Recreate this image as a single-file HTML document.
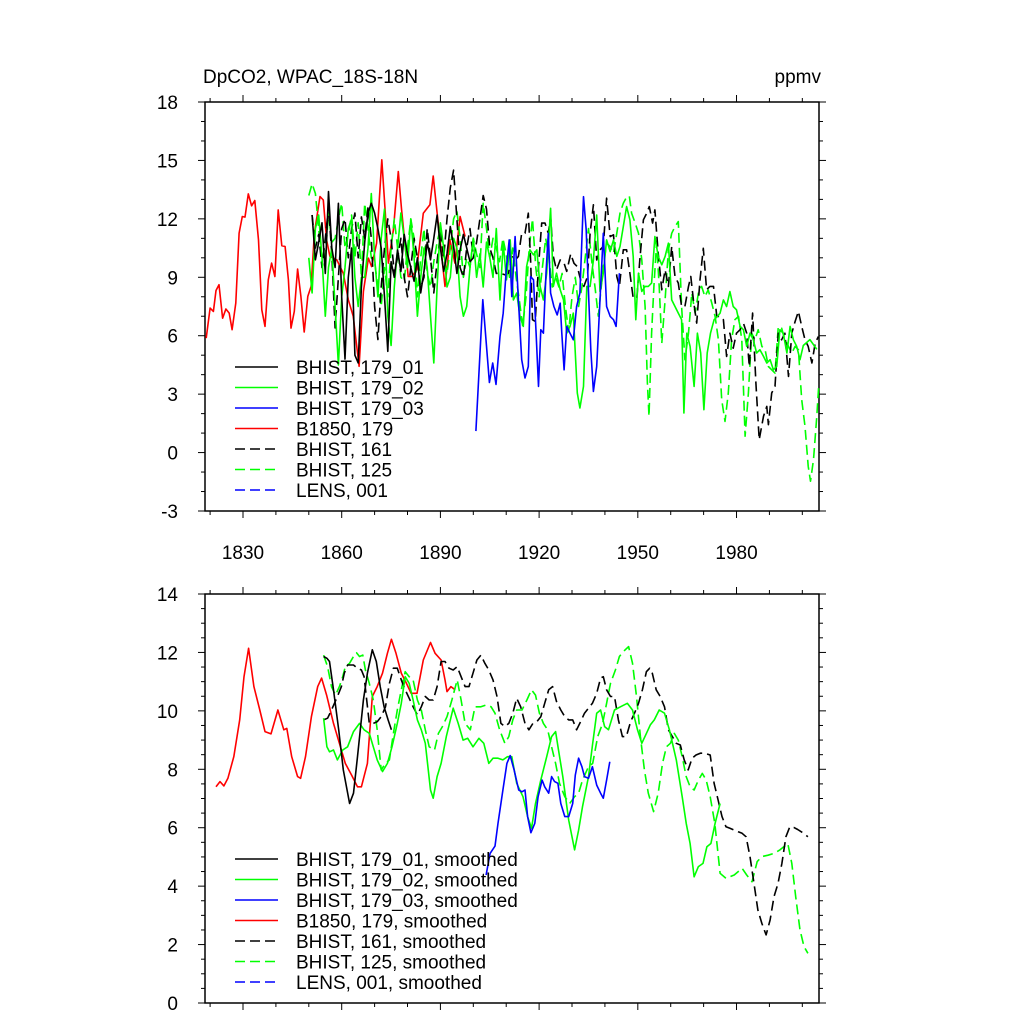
<!DOCTYPE html>
<html><head><meta charset="utf-8"><style>
html,body{margin:0;padding:0;background:#fff;}
svg{display:block;font-family:"Liberation Sans",sans-serif;}
</style></head><body>
<svg id="chart" width="1024" height="1024" viewBox="0 0 1024 1024">
<text x="203" y="83" font-size="19">DpCO2, WPAC_18S-18N</text>
<text x="821" y="83" font-size="19" text-anchor="end">ppmv</text>
<g id="top"></g>
<g id="bot"></g>
</svg>
<script>
// ---------- TOP PANEL DATA (raw annual) ----------
const redYears=[1818.8,1820.0,1821.0,1821.8,1822.7,1823.8,1824.8,1825.8,1826.7,1827.8,1828.8,1829.8,1830.6,1831.6,1832.6,1833.6,1834.7,1835.7,1836.7,1837.7,1838.7,1839.7,1840.7,1841.8,1842.8,1843.8,1844.6,1845.6,1846.6,1847.6,1848.6,1849.7,1850.7,1851.7,1853.4,1854.4,1855.4,1856.4,1858.5,1860.5,1862.0,1863.5,1865.3,1866.6,1868.1,1869.1,1870.6,1872.2,1873.2,1874.2,1875.7,1877.2,1878.2,1880.2,1881.3,1882.8,1884.8,1886.8,1887.8,1888.9,1891.4,1892.9,1894.4,1896.0,1897.5];
const redVals=[5.88,7.42,7.25,8.32,8.62,6.9,7.37,7.16,6.31,7.68,11.27,12.12,12.09,13.28,12.67,12.94,10.92,7.33,6.48,8.87,9.73,9.04,12.46,10.62,10.58,8.87,6.39,7.25,9.42,8.02,6.19,8.02,8.53,11.27,13.15,12.97,10.92,10.07,9.9,9.2,7.85,7.0,4.43,8.27,9.98,9.55,10.75,15.03,12.46,9.73,11.44,14.43,12.46,9.04,9.04,9.38,12.29,12.72,14.2,12.46,8.53,10.92,9.73,12.12,11.09];

const blk1Start=1851;
const blk1Vals=[12.2,9.9,10.8,11.8,9.2,13.4,10.5,9.5,12.8,8.0,4.8,9.0,10.5,5.0,4.6,8.5,10.8,12.3,12.8,12.3,11.5,10.5,8.0,5.2,9.8,9.0,10.4,9.3,11.2,10.2,9.5,8.8,10.0,8.2,9.3,10.8,9.9,11.0,12.2,10.5,9.3,10.2,11.6,10.6,9.2,10.4,11.2,10.5,9.8,10.0];

const grn2EarlyStart=1850;
const grn2EarlyVals=[10.0,8.2,11.5,12.2,10.0,7.0,9.5,10.5,7.5,4.5,8.0,9.5,11.5,12.0,9.0,7.5,9.0,9.0,10.5,13.3,10.0,8.0,11.0,12.5,7.0,5.5,8.5,10.5,12.3,11.0,9.5,12.0,10.0,7.0,9.0,10.5,9.5,7.0,4.6,8.5,11.8,10.5,8.5,9.0,11.0,10.5,8.0,7.0,7.5,9.5,11.0,9.0,10.2,8.5,10.8,10.0,9.0,11.5];
const grn2LateYears=[1908.1,1909.1,1910.1,1911.2,1912.2,1913.2,1914.2,1915.2,1916.2,1917.2,1918.3,1919.3,1920.3,1921.3,1922.3,1923.5,1924.3,1925.3,1926.4,1927.4,1928.4,1929.4,1930.4,1931.6,1932.4,1933.5,1934.5,1935.5,1936.5,1937.5,1938.5,1939.5,1940.5,1941.6,1942.6,1943.6,1944.6,1945.6,1946.6,1947.6,1948.6,1949.4,1950.2,1951.2,1952.2,1953.2,1954.2,1955.2,1956.2,1957.3,1958.3,1959.3,1960.3,1961.3,1962.3,1963.3,1964.0,1964.9,1965.9,1967.1,1968.1,1969.1,1970.1,1971.1,1972.1,1973.2,1974.2,1975.0,1976.0,1977.0,1978.0,1979.0,1980.0,1981.1,1982.1,1983.1,1984.1,1985.1,1986.1,1987.1,1988.2,1989.2,1990.2,1991.2,1992.2,1993.2,1994.2,1995.3,1996.3,1997.3,1998.3,1999.3,2000.3,2002.3,2004.4];
const grn2LateVals=[7.84,10.75,8.87,10.92,7.84,8.19,6.99,6.48,9.55,10.41,10.15,10.41,8.53,7.84,9.21,12.54,8.53,9.21,8.36,7.84,6.13,6.48,7.16,3.06,2.29,3.40,8.53,8.53,9.89,12.2,8.27,9.21,10.92,10.32,10.92,10.07,10.58,11.6,12.63,11.95,10.07,6.82,9.21,8.27,8.53,8.53,8.7,11.09,10.07,9.64,10.07,10.75,7.84,7.5,7.16,6.82,2.03,6.13,5.45,3.40,6.13,5.11,2.2,5.11,6.13,6.82,6.99,7.16,7.84,7.5,8.27,7.5,7.33,6.48,6.31,5.45,6.13,5.79,5.11,5.28,4.94,4.6,4.77,4.25,4.42,6.31,6.13,5.11,6.48,5.79,5.45,4.77,5.5,5.8,5.3];

const blu3Years=[1900.8,1902.9,1904.9,1905.9,1906.9,1908.1,1909.1,1910.1,1910.9,1911.7,1912.7,1913.7,1914.7,1915.7,1916.7,1917.4,1918.3,1919.1,1919.8,1920.5,1921.3,1922.1,1922.8,1923.5,1924.5,1925.5,1926.4,1926.9,1927.6,1928.4,1929.4,1930.4,1931.4,1932.4,1933.5,1934.3,1935.1,1935.7,1936.5,1937.5,1938.5,1939.5,1940.5,1941.6,1942.6,1943.4,1944.4];
const blu3Vals=[1.1,7.85,3.6,4.6,3.5,5.96,7.16,9.55,10.92,8.01,11.09,7.84,4.77,3.83,4.42,9.04,8.87,6.13,3.40,6.31,6.13,9.21,11.26,8.19,7.5,7.07,7.67,6.13,4.25,6.48,6.13,5.79,7.5,8.19,13.14,11.43,7.84,5.28,3.14,4.42,7.84,11.26,7.5,6.99,6.82,6.48,9.21];

const blk161EarlyStart=1851;
const blk161EarlyVals=[12.2,10.5,11.2,9.5,11.0,12.6,10.2,6.4,9.0,11.5,12.0,10.0,11.5,12.3,10.0,12.1,11.0,12.6,11.0,7.5,5.8,8.5,10.5,12.0,11.0,9.2,10.0,11.0,9.0,8.0,9.5,11.0,10.0,8.5,9.0,11.5,10.0,8.2,9.8,11.3,10.0,12.0,13.6,14.5,12.0,9.5,9.0,10.5,11.5,10.0,10.8,12.0,13.2,12.5,10.5,10.0,9.2];
const blk161LateYears=[1908.1,1909.6,1910.7,1911.7,1912.7,1913.7,1914.7,1915.7,1916.7,1917.4,1918.0,1918.8,1919.8,1920.8,1921.8,1922.8,1923.5,1924.3,1925.3,1926.4,1927.6,1928.4,1929.6,1930.6,1931.6,1932.6,1933.6,1934.7,1935.5,1936.5,1937.5,1938.5,1939.5,1940.5,1941.6,1942.6,1943.6,1944.4,1945.6,1946.6,1947.6,1948.6,1949.7,1950.7,1951.7,1952.7,1953.5,1954.5,1955.2,1956.2,1957.3,1958.3,1959.3,1960.3,1961.3,1962.3,1963.3,1964.3,1965.4,1966.1,1966.9,1967.9,1968.9,1969.9,1970.9,1971.9,1973.0,1974.0,1975.0,1976.0,1977.0,1978.0,1979.0,1980.0,1981.1,1982.1,1983.1,1983.9,1984.9,1985.9,1986.9,1988.2,1989.2,1989.7,1990.7,1991.7,1992.7,1993.7,1994.7,1995.8,1996.8,1997.8,1998.8,1999.8,2000.8,2001.8,2002.9,2003.9,2004.9];
const blk161LateVals=[9.21,9.13,9.21,10.07,9.89,10.07,11.26,11.26,12.29,9.89,6.82,6.73,9.55,11.78,11.78,11.26,12.12,10.07,9.38,9.89,9.72,9.30,10.2,9.72,9.55,8.87,8.53,9.04,11.26,12.72,9.89,10.41,10.58,13.06,11.09,11.18,9.04,8.53,10.41,10.41,9.21,7.93,7.93,10.07,11.95,12.29,12.63,11.78,12.46,10.24,8.36,9.38,8.53,10.58,9.04,8.7,7.5,7.5,8.53,9.04,7.84,6.65,8.87,10.49,8.36,8.53,8.53,6.99,6.99,6.82,4.94,6.13,5.36,6.13,6.31,6.65,6.13,4.42,7.16,3.57,0.66,1.86,2.37,1.43,3.06,3.40,6.13,5.79,6.13,3.91,6.13,6.73,7.25,6.48,5.79,5.45,4.6,5.62,5.96];

const grn125EarlyStart=1850;
const grn125EarlyVals=[13.2,13.8,13.3,11.5,9.5,10.0,12.3,10.8,11.0,12.0,12.8,10.5,11.2,12.2,10.0,11.8,9.0,12.8,11.5,10.0,9.8,8.5,7.5,9.5,8.0,10.5,12.0,10.5,9.0,8.8,10.5,12.0,11.0,8.0,10.0,11.5,9.2,8.5,9.8,10.8,11.5,10.0,9.2,10.5,12.0,12.4,11.0,9.0,10.0,9.5,11.0,10.2,9.5,12.8,11.5,10.0,11.0,10.5,9.8,11.0,10.2,9.0,10.5,9.0,7.8,6.5,8.0,10.5,12.0,9.5,8.0,9.5,11.0,10.0,8.5,9.0,8.5,9.2,7.5,6.2,8.0,9.0,7.5,8.5,10.0,11.5,9.8,8.5,7.0];
const grn125LateYears=[1939.5,1940.5,1941.6,1942.6,1943.6,1944.6,1945.6,1946.4,1947.4,1948.1,1949.2,1950.2,1951.2,1952.2,1952.9,1953.4,1954.2,1954.9,1955.7,1956.5,1957.3,1958.3,1959.3,1960.3,1961.3,1962.3,1963.3,1964.3,1965.4,1966.4,1967.4,1968.4,1969.4,1970.4,1971.4,1972.5,1973.5,1974.5,1975.5,1976.5,1977.5,1978.5,1979.5,1980.6,1981.6,1982.6,1983.6,1984.6,1985.6,1986.6,1987.7,1988.7,1989.7,1990.7,1991.7,1992.7,1993.7,1994.7,1995.8,1996.8,1997.8,1998.8,1999.8,2000.8,2001.8,2002.5,2003.4,2004.4,2005.0];
const grn125LateVals=[9.55,10.75,10.58,10.24,11.26,12.29,12.8,13.06,13.18,12.29,11.78,11.26,9.89,7.5,3.57,1.86,6.13,8.53,10.75,8.53,5.62,7.84,10.41,11.26,11.6,11.86,7.5,4.77,6.13,8.19,7.16,8.19,8.53,8.01,8.36,7.67,6.99,5.79,2.72,1.60,3.06,5.79,6.82,6.99,5.79,0.84,3.06,6.13,5.79,6.31,5.45,5.28,4.42,4.25,4.08,6.48,6.39,5.79,5.45,5.11,5.45,5.28,2.72,1.35,-0.7,-1.47,-0.36,1.86,3.5];

// ---------- BOTTOM PANEL DATA (smoothed) ----------
const redSmYears=[1821.8,1823.0,1824.2,1825.4,1827.2,1829.0,1830.3,1831.7,1833.3,1835.1,1836.7,1838.5,1840.6,1842.4,1843.3,1844.8,1846.6,1847.5,1849.0,1850.8,1852.7,1853.9,1855.4,1857.5,1859.3,1861.1,1863.0,1864.8,1866.0,1867.8,1869.3,1870.8,1872.4,1873.9,1875.1,1876.5,1878.1,1879.7,1881.1,1882.9,1884.8,1887.0,1888.4,1890.2,1891.4,1892.0,1893.2,1894.5];
const redSmVals=[7.40,7.58,7.43,7.69,8.43,9.69,11.17,12.14,10.83,10.03,9.29,9.21,10.03,9.35,9.40,8.43,7.75,7.69,8.43,9.80,10.83,11.12,10.54,9.57,8.89,8.20,7.80,7.40,7.40,8.20,10.49,10.83,11.29,11.97,12.45,11.97,11.29,10.94,10.60,10.60,11.74,12.34,11.97,11.74,11.06,10.66,10.83,10.72];

const blk1SmYears=[1854.5,1855.5,1856.3,1857.5,1859.1,1860.5,1862.4,1863.6,1864.8,1866.6,1867.8,1869.3,1870.5,1871.7,1872.9,1874.1,1875.1];
const blk1SmVals=[11.86,11.80,11.69,10.72,9.35,7.98,6.83,7.18,8.43,10.37,11.29,12.09,11.69,10.83,10.14,9.69,9.35];

const grn2SmYears=[1854.5,1855.5,1856.3,1857.5,1858.7,1860.3,1861.8,1863.6,1865.4,1866.8,1868.4,1869.6,1870.8,1872.4,1873.9,1875.3,1876.9,1878.1,1879.3,1880.5,1881.7,1883.0,1884.2,1885.4,1887.0,1887.8,1889.0,1890.2,1891.8,1893.9,1895.4,1896.9,1898.3,1899.9,1901.7,1903.2,1904.7,1906.0,1907.5,1909.0,1910.4,1911.7,1913.2,1915.1,1916.5,1917.7,1918.9,1920.5,1922.3,1923.8,1925.0,1925.9,1927.2,1929.0,1930.8,1932.0,1933.2,1935.0,1936.3,1937.5,1938.7,1939.9,1941.1,1942.9,1944.7,1946.8,1948.4,1949.9,1951.2,1952.6,1953.8,1955.0,1956.5,1958.1,1959.6,1961.7,1963.5,1964.7,1965.9,1967.1,1968.4,1969.8,1971.0,1972.2,1973.5,1975.0];
const grn2SmVals=[9.75,8.77,8.60,8.66,8.32,8.66,8.77,9.29,9.57,9.35,9.23,8.77,8.32,7.92,8.20,8.77,9.57,10.26,11.17,10.94,10.37,9.69,9.35,8.89,7.29,7.01,7.75,8.20,9.12,10.09,9.57,9.00,9.06,8.77,9.06,8.89,8.20,8.38,8.38,8.32,8.43,8.43,7.52,7.06,6.38,5.98,6.83,7.63,8.43,9.12,9.29,8.66,7.75,6.26,5.24,5.92,6.72,7.75,8.89,9.92,10.03,9.46,9.35,10.03,10.14,10.26,10.03,9.35,8.89,9.23,9.52,9.69,10.03,9.92,9.35,8.32,7.06,6.15,5.46,4.32,4.67,4.78,5.35,5.46,6.15,6.83];

const blu3SmYears=[1903.9,1905.1,1906.6,1907.5,1909.0,1910.2,1911.2,1912.4,1913.8,1914.8,1915.7,1916.5,1917.5,1918.7,1919.7,1920.9,1921.7,1922.9,1923.8,1924.7,1925.7,1926.6,1927.8,1929.0,1930.2,1931.0,1932.0,1933.0,1933.8,1935.0,1936.2,1937.5,1938.7,1939.5,1940.5,1941.5];
const blu3SmVals=[4.38,5.12,5.37,6.15,7.29,8.20,8.47,7.98,7.29,7.23,7.29,6.38,5.83,6.15,7.06,7.63,7.40,7.18,7.75,7.58,7.52,6.83,6.38,6.38,6.83,7.80,8.38,8.09,7.75,7.69,8.09,7.46,7.18,7.01,7.63,8.26];

const blk161SmYears=[1854.5,1855.7,1856.9,1858.7,1859.9,1860.8,1861.8,1863.6,1864.8,1866.0,1866.8,1867.6,1868.4,1869.6,1870.8,1872.0,1873.3,1874.5,1875.7,1876.9,1878.1,1879.3,1880.5,1881.7,1883.0,1884.2,1885.4,1886.6,1887.8,1889.0,1890.2,1891.4,1892.6,1893.9,1895.1,1896.3,1897.5,1898.7,1899.9,1901.1,1902.3,1903.5,1904.7,1906.0,1907.2,1908.4,1909.6,1910.8,1912.0,1913.2,1914.4,1915.7,1916.9,1918.1,1919.3,1920.5,1921.7,1922.9,1924.1,1925.3,1926.6,1927.8,1929.0,1930.2,1931.4,1932.6,1933.8,1935.0,1936.2,1937.5,1938.7,1939.5,1940.5,1941.7,1942.9,1944.1,1945.3,1946.5,1947.8,1949.0,1950.2,1951.4,1952.6,1953.6,1954.4,1955.6,1956.8,1958.1,1959.3,1960.5,1961.7,1962.9,1964.1,1965.3,1966.5,1967.7,1969.0,1970.2,1972.0,1973.2,1974.4,1975.6,1976.8,1978.0,1979.3,1980.5,1981.7,1982.9,1984.1,1985.3,1986.5,1987.7,1989.0,1990.2,1991.4,1992.6,1993.8,1995.0,1996.2,1997.4,1998.6,2000.4,2001.7];
const blk161SmVals=[9.69,9.75,10.03,10.49,10.83,11.29,11.57,11.57,11.46,11.40,11.17,10.37,9.57,9.57,9.63,9.80,10.14,10.94,11.46,11.46,11.06,10.72,10.43,10.14,9.86,10.14,10.49,10.37,10.37,10.83,11.69,11.69,11.46,11.40,11.51,11.17,10.83,10.83,11.29,11.74,11.91,11.63,11.40,11.06,10.49,9.57,9.46,9.57,9.92,10.43,10.14,9.57,9.35,9.57,9.63,9.80,10.26,10.72,10.83,10.32,10.03,9.80,9.69,9.69,9.35,9.63,9.92,10.09,10.26,10.60,11.12,11.17,10.72,10.49,10.49,9.69,9.12,9.12,9.63,9.92,10.26,10.72,11.34,11.46,11.29,10.72,10.49,10.14,9.35,9.12,8.89,8.83,8.32,7.98,8.38,8.49,8.55,8.55,8.49,7.52,6.95,6.38,6.03,5.98,5.92,5.86,5.81,5.69,5.01,4.09,3.18,2.72,2.33,2.84,3.64,4.09,4.78,5.69,6.03,6.01,5.94,5.81,5.69];

const grn125SmYears=[1854.5,1855.7,1856.9,1858.1,1859.3,1860.3,1861.1,1862.4,1863.6,1864.5,1865.4,1866.4,1867.2,1868.4,1869.6,1870.8,1872.0,1873.3,1874.5,1875.7,1876.9,1878.1,1879.3,1880.5,1881.7,1883.0,1884.2,1885.4,1886.6,1888.2,1889.4,1890.6,1892.0,1893.5,1895.1,1896.3,1897.5,1899.1,1900.5,1902.3,1903.9,1905.4,1906.6,1908.0,1909.6,1910.8,1912.0,1913.2,1914.8,1916.3,1917.7,1918.9,1920.1,1921.3,1922.6,1923.8,1925.0,1926.2,1927.8,1929.3,1930.8,1932.0,1933.2,1935.0,1936.3,1937.8,1939.3,1940.5,1941.7,1943.2,1944.4,1945.6,1947.2,1948.4,1949.6,1950.8,1952.0,1953.2,1954.8,1956.2,1957.5,1958.7,1959.9,1961.1,1962.3,1963.5,1964.7,1965.9,1967.1,1968.4,1969.6,1970.8,1972.0,1973.4,1975.0,1976.8,1979.3,1981.7,1983.1,1984.7,1986.3,1987.7,1989.6,1991.4,1993.2,1995.6,1996.8,1998.0,1999.3,2000.5,2001.7];
const grn125SmVals=[11.91,11.51,10.83,10.54,10.83,11.17,11.51,11.63,11.86,11.99,11.86,11.91,11.40,10.94,10.37,9.35,7.98,8.20,8.32,9.23,10.03,10.72,11.34,11.17,11.06,10.37,10.03,9.35,8.77,8.66,9.23,9.46,9.80,10.37,11.06,10.37,9.57,9.35,10.14,10.14,10.20,10.14,9.92,9.35,8.89,9.12,9.69,10.03,10.03,10.37,10.72,10.54,9.92,9.57,9.35,8.77,8.20,7.52,7.06,6.83,7.06,7.18,7.63,8.09,8.20,9.12,9.57,10.26,10.94,11.40,11.86,12.03,12.20,11.63,10.49,9.12,7.98,7.18,6.55,7.18,8.20,8.77,8.89,9.23,9.00,8.43,7.75,7.40,7.29,7.63,7.86,7.63,7.06,6.15,4.44,4.27,4.38,4.61,4.38,4.15,4.84,5.01,5.06,5.12,5.24,5.46,4.78,3.64,2.50,1.93,1.70];

// ---------- AXIS LABELS ----------
const topYTicks=[-3,0,3,6,9,12,15,18];
const botYTicks=[0,2,4,6,8,10,12,14];
const xTickYears=[1830,1860,1890,1920,1950,1980];

const NS='http://www.w3.org/2000/svg';
const X0=205,X1=819,YR0=1818.45,YR1=2005.07;
function xs(yr){return X0+(yr-YR0)/(YR1-YR0)*(X1-X0);}
function ysTop(v){return 511+(v-(-3))/(18-(-3))*(102-511);}
function ysBot(v){return 1003+(v-0)/(14-0)*(594-1003);}

function mk(tag,attrs,parent){const e=document.createElementNS(NS,tag);for(const k in attrs)e.setAttribute(k,attrs[k]);parent.appendChild(e);return e;}

function drawSeries(parent,years,vals,ys,color,dashed,name){
  let d='';
  for(let i=0;i<years.length;i++){d+=(i?'L':'M')+xs(years[i]).toFixed(1)+','+ys(vals[i]).toFixed(1);}
  const p=mk('path',{d:d,fill:'none',stroke:color,'stroke-width':1.6,'stroke-linejoin':'round'},parent);
  if(dashed)p.setAttribute('stroke-dasharray','10,5');
  
  
}
function seq(start,n){const a=[];for(let i=0;i<n;i++)a.push(start+i);return a;}

function frame(parent,yTop,yBot,vmin,vmax,ys,majorStep,minorStep,ticks,showX,panel){
  const r=mk('rect',{x:X0,y:yTop,width:X1-X0,height:yBot-yTop,fill:'none',stroke:'#000','stroke-width':1.5},parent);
  
  
  const tg=mk('g',{stroke:'#000','stroke-width':1},parent);
  
  
  for(let v=vmin;v<=vmax+1e-6;v+=minorStep){
    const major=Math.abs(v/majorStep-Math.round(v/majorStep))<1e-6;
    const L=major?7:4,y=ys(v);
    mk('line',{x1:X0,x2:X0-L,y1:y,y2:y},tg);
    mk('line',{x1:X1,x2:X1+L,y1:y,y2:y},tg);
  }
  for(let yr=1820;yr<=2000;yr+=10){
    const major=(yr-1830)%30===0;const L=major?7:4,x=xs(yr);
    mk('line',{x1:x,x2:x,y1:yTop,y2:yTop-L},tg);
    mk('line',{x1:x,x2:x,y1:yBot,y2:yBot+L},tg);
  }
  ticks.forEach(v=>{
    const t=mk('text',{x:178,y:ys(v)+7,'font-size':19,'text-anchor':'end'},parent);
    t.textContent=String(v);
    
    
  });
  if(showX){xTickYears.forEach(yr=>{
    const t=mk('text',{x:xs(yr),y:559,'font-size':19,'text-anchor':'middle'},parent);
    t.textContent=String(yr);
    
    
  });}
}

function legend(parent,x,y0,dy,items){
  items.forEach((it,i)=>{
    const g=mk('g',{},parent);
    
    
    const y=y0+i*dy;
    const l=mk('line',{x1:x,x2:x+43,y1:y,y2:y,stroke:it[1],'stroke-width':1.6},g);
    if(it[2])l.setAttribute('stroke-dasharray','10,5');
    const t=mk('text',{x:x+61,y:y+7,'font-size':19},g);
    t.textContent=it[0];
  });
}

const topG=document.getElementById('top'),botG=document.getElementById('bot');
frame(topG,102,511,-3,18,ysTop,3,1,topYTicks,true,'top');
frame(botG,594,1003,0,14,ysBot,2,0.5,botYTicks,false,'bottom');

drawSeries(topG,redYears,redVals,ysTop,'#ff0000',false,'series-b1850-179');
drawSeries(topG,seq(grn125EarlyStart,grn125EarlyVals.length).concat(grn125LateYears),grn125EarlyVals.concat(grn125LateVals),ysTop,'#00ff00',true,'series-bhist-125');
drawSeries(topG,seq(blk161EarlyStart,blk161EarlyVals.length).concat(blk161LateYears),blk161EarlyVals.concat(blk161LateVals),ysTop,'#000000',true,'series-bhist-161');
drawSeries(topG,seq(grn2EarlyStart,grn2EarlyVals.length).concat(grn2LateYears),grn2EarlyVals.concat(grn2LateVals),ysTop,'#00ff00',false,'series-bhist-179-02');
drawSeries(topG,seq(blk1Start,blk1Vals.length),blk1Vals,ysTop,'#000000',false,'series-bhist-179-01');
drawSeries(topG,blu3Years,blu3Vals,ysTop,'#0000ff',false,'series-bhist-179-03');

drawSeries(botG,redSmYears,redSmVals,ysBot,'#ff0000',false,'series-b1850-179-smoothed');
drawSeries(botG,grn125SmYears,grn125SmVals,ysBot,'#00ff00',true,'series-bhist-125-smoothed');
drawSeries(botG,blk161SmYears,blk161SmVals,ysBot,'#000000',true,'series-bhist-161-smoothed');
drawSeries(botG,grn2SmYears,grn2SmVals,ysBot,'#00ff00',false,'series-bhist-179-02-smoothed');
drawSeries(botG,blk1SmYears,blk1SmVals,ysBot,'#000000',false,'series-bhist-179-01-smoothed');
drawSeries(botG,blu3SmYears,blu3SmVals,ysBot,'#0000ff',false,'series-bhist-179-03-smoothed');

legend(topG,235,367,20.5,[['BHIST, 179_01','#000',false],['BHIST, 179_02','#00ff00',false],['BHIST, 179_03','#0000ff',false],['B1850, 179','#ff0000',false],['BHIST, 161','#000',true],['BHIST, 125','#00ff00',true],['LENS, 001','#0000ff',true]]);
legend(botG,235,859,20.5,[['BHIST, 179_01, smoothed','#000',false],['BHIST, 179_02, smoothed','#00ff00',false],['BHIST, 179_03, smoothed','#0000ff',false],['B1850, 179, smoothed','#ff0000',false],['BHIST, 161, smoothed','#000',true],['BHIST, 125, smoothed','#00ff00',true],['LENS, 001, smoothed','#0000ff',true]]);
</script>
</body></html>
